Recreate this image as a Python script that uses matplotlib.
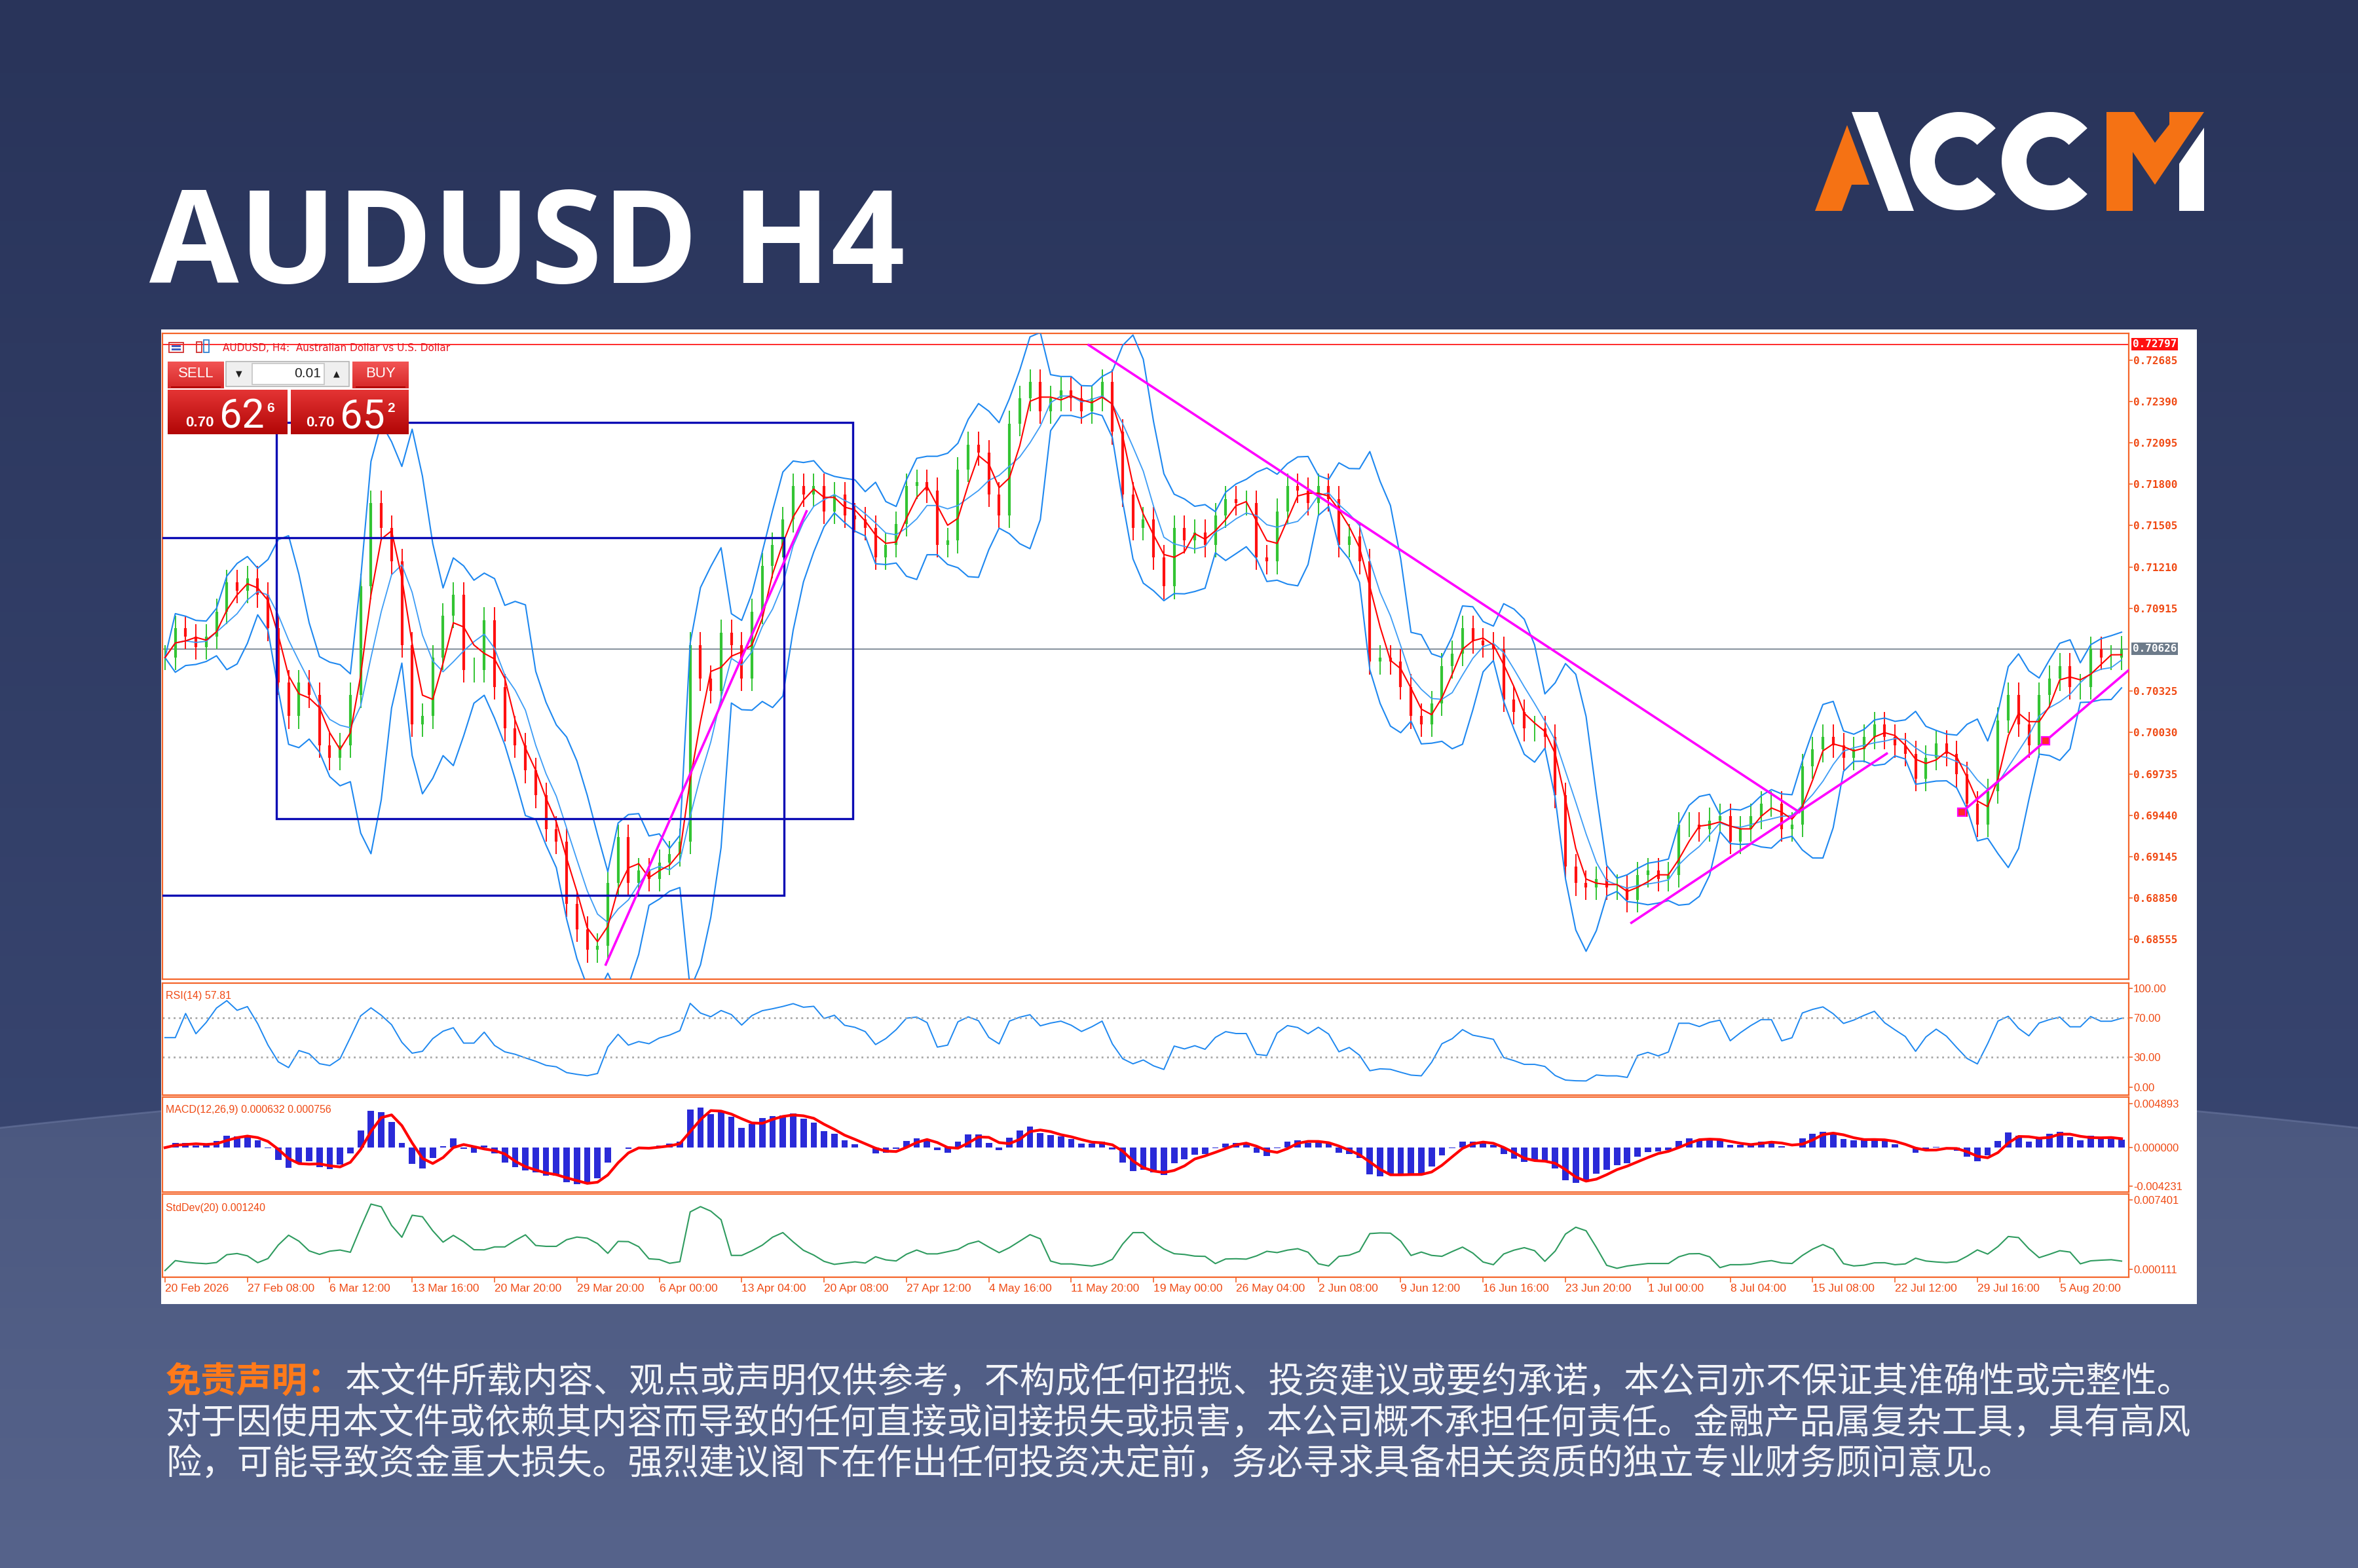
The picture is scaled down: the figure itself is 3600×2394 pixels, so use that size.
import numpy as np
import pandas as pd
import matplotlib
matplotlib.use("Agg")
import matplotlib.pyplot as plt
from matplotlib.patches import Rectangle, Polygon, Wedge
from matplotlib.colors import LinearSegmentedColormap

W, H = 3600, 2394

# closing prices, one bar = 16h of the H4 chart
closes = [
    0.70564, 0.70773, 0.70713, 0.70639, 0.70713, 0.70892, 0.71100, 0.71041, 0.71130, 0.71011,
    0.70773, 0.70386, 0.70147, 0.70386, 0.70296, 0.69939, 0.69850, 0.69939, 0.70296, 0.71071,
    0.71666, 0.71488, 0.71249, 0.70654, 0.70088, 0.70147, 0.70564, 0.70862, 0.71011, 0.70475,
    0.70475, 0.70832, 0.70356, 0.70058, 0.69939, 0.69760, 0.69582, 0.69343, 0.69254, 0.68807,
    0.68629, 0.68480, 0.68510, 0.68956, 0.69284, 0.68956, 0.69046, 0.68986, 0.69105, 0.69165,
    0.69254, 0.70654, 0.70416, 0.70326, 0.70743, 0.70654, 0.70416, 0.70892, 0.71220, 0.71368,
    0.71547, 0.71785, 0.71726, 0.71785, 0.71607, 0.71726, 0.71577, 0.71547, 0.71488, 0.71279,
    0.71368, 0.71517, 0.71785, 0.71815, 0.71756, 0.71368, 0.71398, 0.71904, 0.72083, 0.72024,
    0.71726, 0.71577, 0.72232, 0.72411, 0.72530, 0.72321, 0.72411, 0.72470, 0.72411, 0.72321,
    0.72411, 0.72530, 0.72173, 0.71726, 0.71488, 0.71547, 0.71279, 0.71071, 0.71488, 0.71398,
    0.71458, 0.71368, 0.71577, 0.71696, 0.71666, 0.71666, 0.71279, 0.71249, 0.71607, 0.71785,
    0.71756, 0.71666, 0.71785, 0.71696, 0.71368, 0.71428, 0.71249, 0.70535, 0.70564, 0.70535,
    0.70356, 0.70147, 0.70088, 0.70237, 0.70505, 0.70594, 0.70773, 0.70684, 0.70654, 0.70624,
    0.70267, 0.70177, 0.70058, 0.70058, 0.69999, 0.69582, 0.69075, 0.68956, 0.68927, 0.68986,
    0.68927, 0.68927, 0.68837, 0.69016, 0.69046, 0.68986, 0.69016, 0.69373, 0.69373, 0.69343,
    0.69403, 0.69433, 0.69254, 0.69343, 0.69433, 0.69522, 0.69522, 0.69343, 0.69373, 0.69790,
    0.69909, 0.69999, 0.69939, 0.69850, 0.69909, 0.69999, 0.70088, 0.69999, 0.69939, 0.69879,
    0.69701, 0.69850, 0.69954, 0.69879, 0.69731, 0.69522, 0.69373, 0.69611, 0.70118, 0.70296,
    0.70088, 0.69939, 0.70296, 0.70416, 0.70505, 0.70356, 0.70356, 0.70624, 0.70564, 0.70564,
    0.70626,
]
wick = 0.0009

dates = ["20 Feb 2026", "27 Feb 08:00", "6 Mar 12:00", "13 Mar 16:00", "20 Mar 20:00",
         "29 Mar 20:00", "6 Apr 00:00", "13 Apr 04:00", "20 Apr 08:00", "27 Apr 12:00",
         "4 May 16:00", "11 May 20:00", "19 May 00:00", "26 May 04:00", "2 Jun 08:00",
         "9 Jun 12:00", "16 Jun 16:00", "23 Jun 20:00", "1 Jul 00:00", "8 Jul 04:00",
         "15 Jul 08:00", "22 Jul 12:00", "29 Jul 16:00", "5 Aug 20:00"]
date_bars = [8 * k for k in range(len(dates))]

price_ticks = [0.72685, 0.72390, 0.72095, 0.71800, 0.71505, 0.71210, 0.70915,
               0.70325, 0.70030, 0.69735, 0.69440, 0.69145, 0.68850, 0.68555]
rsi_ticks = [100, 70, 30, 0]
macd_ticks = [0.004893, 0.0, -0.004231]
macd_labels = ["0.004893", "0.000000", "-0.004231"]
sd_ticks = [0.007401, 0.000111]
sd_labels = ["0.007401", "0.000111"]

last_price = 0.70626
high_price = 0.72797

# objects drawn on the chart: (bar, price)
boxes = [((-1.0, 0.68869), (60.1, 0.71418)), ((10.8, 0.69418), (66.8, 0.72238))]
trend_lines = [((42.8, 0.68376), (62.3, 0.71607)),
               ((89.7, 0.72792), (158.7, 0.69463)),
               ((142.4, 0.68674), (167.2, 0.69880)),
               ((174.5, 0.69463), (190.7, 0.70475))]
anchors = [(174.5, 0.69463), (182.6, 0.69969)]

ORANGE = "#f5652a"
LABEL = "#f04a14"

# ---- indicators
c = pd.Series(closes)
o = c.shift(1).fillna(c.iloc[0])
ma = c.rolling(3, min_periods=1).mean()
mid = c.rolling(5, min_periods=1).mean()
sdv = c.rolling(5, min_periods=1).std(ddof=0).fillna(0)
upper, lower = mid + 2 * sdv, mid - 2 * sdv
d = c.diff().fillna(0)
g = d.clip(lower=0).ewm(alpha=1 / 6, adjust=False).mean()
l = (-d.clip(upper=0)).ewm(alpha=1 / 6, adjust=False).mean()
rsi = (100 - 100 / (1 + g / l.replace(0, np.nan))).fillna(50)
macd = c.ewm(span=3, adjust=False).mean() - c.ewm(span=7, adjust=False).mean()
signal = macd.rolling(3, min_periods=1).mean()
x = np.arange(len(closes))


def frac(x0, y0, x1, y1):
    return [x0 / W, 1 - y1 / H, (x1 - x0) / W, (y1 - y0) / H]


def grad(ax, x0, y0, x1, y1, c0, c1, z):
    cm = LinearSegmentedColormap.from_list("g", [c0, c1])
    return ax.imshow(np.linspace(0, 1, 64).reshape(-1, 1), cmap=cm,
                     extent=[x0, x1, y1, y0], aspect="auto", zorder=z)


fig = plt.figure(figsize=(W / 100, H / 100), dpi=100)

# ---- background
bg = fig.add_axes([0, 0, 1, 1])
grad(bg, 0, 0, W, H, "#29345a", "#3d4b77", 0)
cx = np.linspace(0, W, 200)
cy = 1722 - 100 * (1 - ((cx - 1800) / 1800) ** 2)
low_poly = Polygon(np.column_stack([np.r_[cx, W, 0], np.r_[cy, H, H]]), closed=True,
                   facecolor="none", edgecolor="none")
bg.add_patch(low_poly)
im = grad(bg, 0, 1600, W, H, "#4a577e", "#56638b", 1)
im.set_clip_path(low_poly)
bg.plot(cx, cy, color="#6a77a0", lw=2, alpha=0.6, zorder=2)
bg.add_patch(Rectangle((246, 503), 3354 - 246, 1991 - 503, facecolor="white", zorder=3))

bg.text(228, 432, "AUDUSD H4", fontsize=142.5, fontweight="bold", family="Open Sans",
        color="white", va="baseline", zorder=4)

# logo
LOGO_OR, LOGO_W = "#f57214", "white"
bg.add_patch(Polygon([(2771, 322), (2820, 191), (2854, 282), (2827, 282), (2812, 322)],
                     facecolor=LOGO_OR, zorder=4))
bg.add_patch(Polygon([(2827, 171), (2867, 171), (2922, 322), (2883, 322)],
                     facecolor=LOGO_W, zorder=4))
for ccx in (2991, 3131):
    bg.add_patch(Wedge((ccx, 246), 75, 42, 318, width=38, facecolor=LOGO_W, zorder=4))
bg.add_patch(Polygon([(3216, 322), (3216, 171), (3258, 171), (3290, 218), (3312, 190),
                      (3312, 171), (3365, 171), (3290, 282), (3256, 232), (3256, 322)],
                     facecolor=LOGO_OR, zorder=4))
bg.add_patch(Polygon([(3327, 322), (3327, 250), (3365, 195), (3365, 322)],
                     facecolor=LOGO_W, zorder=4))

# disclaimer
cjk = ["Noto Sans CJK SC", "DejaVu Sans"]
fs = 39.1
bg.text(253, 2110, "免责声明：", fontsize=fs, family=cjk, color="#ff7a1a",
        fontweight="bold", va="center", zorder=4)
bg.text(527, 2110, "本文件所载内容、观点或声明仅供参考，不构成任何招揽、投资建议或要约承诺，本公司亦不保证其准确性或完整性。",
        fontsize=fs, family=cjk, color="#f2f4f8", fontweight="light", va="center", zorder=4)
bg.text(253, 2173, "对于因使用本文件或依赖其内容而导致的任何直接或间接损失或损害，本公司概不承担任何责任。金融产品属复杂工具，具有高风",
        fontsize=fs, family=cjk, color="#f2f4f8", fontweight="light", va="center", zorder=4)
bg.text(253, 2236, "险，可能导致资金重大损失。强烈建议阁下在作出任何投资决定前，务必寻求具备相关资质的独立专业财务顾问意见。",
        fontsize=fs, family=cjk, color="#f2f4f8", fontweight="light", va="center", zorder=4)
bg.set_xlim(0, W)
bg.set_ylim(H, 0)
bg.axis("off")

# ---- chart panes
ax_p = fig.add_axes(frac(248, 509, 3250, 1495))
ax_r = fig.add_axes(frac(248, 1501, 3250, 1672), sharex=ax_p)
ax_m = fig.add_axes(frac(248, 1675, 3250, 1820), sharex=ax_p)
ax_s = fig.add_axes(frac(248, 1823, 3250, 1950), sharex=ax_p)

for ax in (ax_p, ax_r, ax_m, ax_s):
    ax.set_facecolor("white")
    for sp in ax.spines.values():
        sp.set_color(ORANGE)
        sp.set_linewidth(1.6)
    ax.yaxis.tick_right()
    ax.tick_params(axis="y", direction="out", length=4, width=1.2, color=ORANGE,
                   labelcolor=LABEL, pad=1)
    ax.tick_params(axis="x", bottom=False, labelbottom=False)

# price bars
up = c >= o
cols = np.where(up, "#33c433", "#ff1010")
ax_p.vlines(x, np.minimum(o, c) - wick, np.maximum(o, c) + wick, colors=cols, lw=1.4, zorder=2)
ax_p.vlines(x, np.minimum(o, c), np.maximum(o, c), colors=cols, lw=3.0, zorder=2)
ax_p.plot(x, upper, color="#1e88f0", lw=1.5, zorder=3)
ax_p.plot(x, lower, color="#1e88f0", lw=1.5, zorder=3)
ax_p.plot(x, mid, color="#3c9cf5", lw=1.3, zorder=3)
ax_p.plot(x, ma, color="#ff0000", lw=1.5, zorder=4)
ax_p.axhline(last_price, color="#7b8794", lw=1.3, zorder=1)
ax_p.axhline(high_price, color="#ff1a1a", lw=1.3, zorder=1)
for (bx0, p0), (bx1, p1) in boxes:
    ax_p.add_patch(Rectangle((bx0, p0), bx1 - bx0, p1 - p0, fill=False,
                             edgecolor="#0a0ab4", lw=2.4, zorder=5))
for (tx0, tp0), (tx1, tp1) in trend_lines:
    ax_p.plot([tx0, tx1], [tp0, tp1], color="#ff00ff", lw=2.6, zorder=6)
for ax_, ay_ in anchors:
    ax_p.plot(ax_, ay_, marker="s", ms=8, mfc="#ff2a2a", mec="#ff00ff", mew=1.6, zorder=7)

ax_p.set_ylim(0.68272, 0.72875)
ax_p.set_yticks(price_ticks)
ax_p.set_yticklabels([f"{t:.5f}" for t in price_ticks], family="DejaVu Sans Mono",
                     fontsize=11.5, fontweight="bold")
ytr = ax_p.get_yaxis_transform()
ax_p.text(1.002, high_price, f"{high_price:.5f}", transform=ytr, ha="left", va="center",
          color="white", family="DejaVu Sans Mono", fontsize=11.5, fontweight="bold",
          bbox=dict(boxstyle="square,pad=0.12", fc="#ff1010", ec="none"), clip_on=False, zorder=8)
ax_p.text(1.002, last_price, f"{last_price:.5f}", transform=ytr, ha="left", va="center",
          color="white", family="DejaVu Sans Mono", fontsize=11.5, fontweight="bold",
          bbox=dict(boxstyle="square,pad=0.12", fc="#6d7b8a", ec="none"), clip_on=False, zorder=8)

# RSI
ax_r.plot(x, rsi, color="#1e88f0", lw=1.4)
for lvl in (70, 30):
    ax_r.axhline(lvl, color="#a8a8a8", lw=2, ls=(0, (1, 2)))
ax_r.set_ylim(-8, 105)
ax_r.set_yticks(rsi_ticks)
ax_r.set_yticklabels([f"{t:.2f}" for t in rsi_ticks], family="Liberation Sans", fontsize=12)
ax_r.text(0.0015, 0.93, "RSI(14) 57.81", transform=ax_r.transAxes, fontsize=11.5,
          color=LABEL, va="top", family="Liberation Sans")

# MACD
ax_m.bar(x, macd, width=0.62, color="#2a2ad8", zorder=2)
ax_m.plot(x, signal, color="#ff0000", lw=3.0, zorder=3)
ax_m.set_ylim(-0.0049, 0.00558)
ax_m.set_yticks(macd_ticks)
ax_m.set_yticklabels(macd_labels, family="Liberation Sans", fontsize=12)
ax_m.text(0.0015, 0.92, "MACD(12,26,9) 0.000632 0.000756", transform=ax_m.transAxes,
          fontsize=11.5, color=LABEL, va="top", family="Liberation Sans")

# StdDev
ax_s.plot(x, sdv, color="#2e9b5f", lw=1.5)
ax_s.set_ylim(-0.0007, 0.00805)
ax_s.set_yticks(sd_ticks)
ax_s.set_yticklabels(sd_labels, family="Liberation Sans", fontsize=12)
ax_s.text(0.0015, 0.89, "StdDev(20) 0.001240", transform=ax_s.transAxes, fontsize=11.5,
          color=LABEL, va="top", family="Liberation Sans")
ax_s.tick_params(axis="x", bottom=True, labelbottom=True, direction="out", length=6,
                 width=1.2, color=ORANGE, labelcolor=LABEL, pad=1)
ax_s.set_xticks(date_bars)
ax_s.set_xticklabels(dates, ha="left", family="Liberation Sans", fontsize=12.5)
ax_p.set_xlim(-0.25, 190.7)

# ---- overlay: chart header and trade panel
ov = fig.add_axes([0, 0, 1, 1])
ov.patch.set_alpha(0)
ov.add_patch(Rectangle((258, 523), 22, 15, fill=False, edgecolor="#d03030", lw=1.3))
ov.add_patch(Rectangle((262, 527), 14, 3, facecolor="#4060c0", edgecolor="none"))
ov.add_patch(Rectangle((262, 532), 14, 3, facecolor="#4060c0", edgecolor="none"))
ov.add_patch(Rectangle((300, 522), 8, 16, fill=False, edgecolor="#d03030", lw=1.3))
ov.add_patch(Rectangle((311, 519), 8, 19, fill=False, edgecolor="#2f7fd0", lw=1.3))
ov.text(340, 531, "AUDUSD, H4:  Australian Dollar vs U.S. Dollar", fontsize=11,
        color="#e8141e", va="center", family="DejaVu Sans")

grad(ov, 256, 552, 342, 593, "#f25454", "#d62828", 2)
grad(ov, 538, 552, 624, 593, "#f25454", "#d62828", 2)
grad(ov, 256, 595, 439, 663, "#e43434", "#b20606", 2)
grad(ov, 444, 595, 624, 663, "#e43434", "#b20606", 2)
ov.plot([262, 336], [591, 591], color="#a80000", lw=1.4, zorder=3)
ov.plot([544, 618], [591, 591], color="#a80000", lw=1.4, zorder=3)
ov.add_patch(Rectangle((345, 552), 188, 38, facecolor="#efefef", edgecolor="#b4b4b4", lw=1.2, zorder=2))
ov.add_patch(Rectangle((385, 555), 110, 32, facecolor="white", edgecolor="#c4c4c4", lw=1.2, zorder=3))
ov.text(365, 571, "▼", fontsize=9, ha="center", va="center", color="#202020", zorder=4)
ov.text(514, 571, "▲", fontsize=9, ha="center", va="center", color="#202020", zorder=4)
ov.text(490, 571, "0.01", fontsize=15, ha="right", va="center", color="#202020",
        family="Liberation Sans", zorder=4)
ov.text(299, 571, "SELL", fontsize=16, ha="center", va="center", color="white",
        family="Liberation Sans", zorder=4)
ov.text(581, 571, "BUY", fontsize=16, ha="center", va="center", color="white",
        family="Liberation Sans", zorder=4)
for x0, big, sup in ((283, "62", "6"), (467, "65", "2")):
    ov.text(x0, 651, "0.70", fontsize=16, fontweight="bold", color="white",
            family="Liberation Sans", va="baseline", zorder=4)
    ov.text(x0 + 52, 653, big, fontsize=44, color="white", family="Roboto",
            va="baseline", zorder=4)
    ov.text(x0 + 124, 629, sup, fontsize=15, fontweight="bold", color="white",
            family="Liberation Sans", va="baseline", zorder=4)
ov.set_xlim(0, W)
ov.set_ylim(H, 0)
ov.axis("off")

fig.savefig("out.png", dpi=100)
